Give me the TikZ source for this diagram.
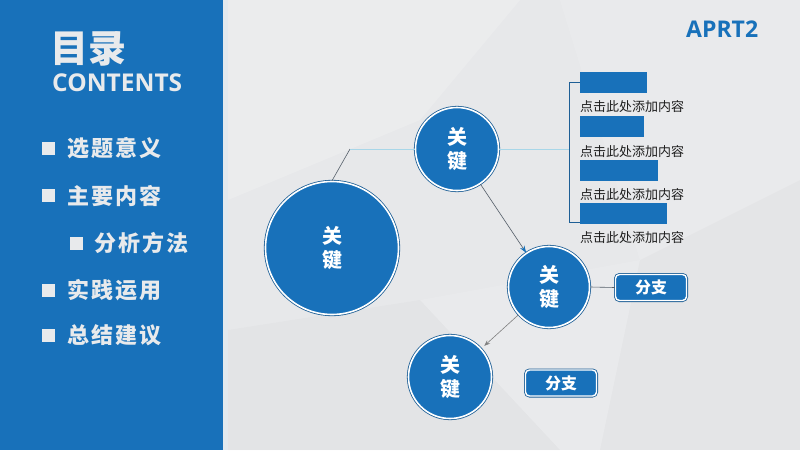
\documentclass[tikz,border=0pt]{standalone}
\usepackage{fontspec}
\setmainfont{Open Sans}
\newfontfamily\cjk{Noto Sans CJK SC}
\newfontfamily\osans{Open Sans}
\usetikzlibrary{arrows.meta}
\definecolor{mainblue}{RGB}{24,113,186}
\definecolor{ringblue}{RGB}{30,95,150}
\definecolor{bgc}{RGB}{231,232,234}
\definecolor{itemgrey}{RGB}{232,234,236}
\definecolor{cyanline}{RGB}{168,214,232}
\definecolor{darkline}{RGB}{85,95,105}
\definecolor{txtdark}{RGB}{30,30,30}
\definecolor{stripc}{RGB}{226,233,238}
\begin{document}
\begin{tikzpicture}[x=1pt,y=-1pt,
  keynode/.style={circle, fill=mainblue, draw=white, line width=1.6pt, minimum size=#1, inner sep=0pt,
    text=white, align=center, font=\cjk\bfseries\fontsize{20}{24}\selectfont,
    preaction={draw=ringblue, line width=3.2pt}},
  branchbox/.style={rectangle, rounded corners=4pt, fill=mainblue, draw=white, line width=1.4pt,
    minimum width=71pt, minimum height=26pt, inner sep=0pt, text=white,
    font=\cjk\bfseries\fontsize{16}{18}\selectfont,
    preaction={draw=ringblue, line width=3pt}},
  bar/.style={fill=mainblue, draw=none, inner sep=0pt, anchor=north west},
  itemtext/.style={anchor=base west, inner sep=0pt, text=itemgrey,
    font=\cjk\bfseries\fontsize{22}{24}\selectfont\addfontfeature{LetterSpace=10}},
  sq/.style={fill=itemgrey, minimum size=13pt, inner sep=0pt},
  smalltext/.style={anchor=base west, inner sep=0pt, text=txtdark, font=\cjk\fontsize{13}{15}\selectfont},
  dline/.style={draw=darkline, line width=0.6pt},
  cline/.style={draw=cyanline, line width=0.9pt},
  brline/.style={draw=ringblue, line width=0.8pt}
]
\useasboundingbox (0,0) rectangle (800,450);
% background
\fill[bgc] (0,0) rectangle (800,450);
\fill[white, opacity=0.18] (228,0) -- (520,0) -- (420,120) -- (228,200) -- cycle;
\fill[white, opacity=0.12] (560,0) -- (800,0) -- (800,180) -- (640,260) -- cycle;
\fill[black, opacity=0.015] (228,330) -- (420,300) -- (560,450) -- (228,450) -- cycle;
\fill[black, opacity=0.012] (640,260) -- (800,180) -- (800,450) -- (600,450) -- cycle;
\fill[white, opacity=0.1] (420,300) -- (640,260) -- (600,450) -- (560,450) -- cycle;
% left panel
\fill[mainblue] (0,0) rectangle (223,450);
\fill[stripc] (223,0) rectangle (228,450);

% titles
\node[anchor=base west, inner sep=0pt, text=itemgrey, font=\cjk\bfseries\fontsize{38}{40}\selectfont] (title) at (50,62) {目录};
\node[anchor=base west, inner sep=0pt, text=itemgrey, font=\osans\bfseries\fontsize{24.5}{27}\selectfont] (contents) at (52,91) {CONTENTS};
\node[anchor=base west, inner sep=0pt, text=mainblue, font=\osans\bfseries\fontsize{23}{25}\selectfont] (aprt) at (686,37) {APRT2};

% menu
\node[sq] (s1) at (48,148.5) {};
\node[itemtext] (i1) at (67,156.4) {选题意义};
\node[sq] (s2) at (48,195.5) {};
\node[itemtext] (i2) at (67,204.4) {主要内容};
\node[sq] (s3) at (76,243) {};
\node[itemtext] (i3) at (94,251.4) {分析方法};
\node[sq] (s4) at (48,290) {};
\node[itemtext] (i4) at (67,298.4) {实践运用};
\node[sq] (s5) at (48,335) {};
\node[itemtext] (i5) at (67,343.4) {总结建议};

% circles
\node[keynode=133pt] (big) at (332,248) {关\\键};
\node[keynode=83pt] (top) at (457,149) {关\\键};
\node[keynode=81pt] (mid) at (549,287) {关\\键};
\node[keynode=83pt] (bot) at (450,377) {关\\键};

% branch boxes
\node[branchbox] (br1) at (651,287.5) {分支};
\node[branchbox] (br2) at (561,383) {分支};

% bars and texts
\node[bar, minimum width=67pt, minimum height=21pt] (bar1) at (580,72) {};
\node[smalltext] (t1) at (580,111.5) {点击此处添加内容};
\node[bar, minimum width=64pt, minimum height=21pt] (bar2) at (580,116) {};
\node[smalltext] (t2) at (580,156) {点击此处添加内容};
\node[bar, minimum width=78pt, minimum height=21pt] (bar3) at (580,160) {};
\node[smalltext] (t3) at (580,199) {点击此处添加内容};
\node[bar, minimum width=87pt, minimum height=21pt] (bar4) at (580,203) {};
\node[smalltext] (t4) at (580,242.5) {点击此处添加内容};

% bracket
\coordinate (bt) at (569,82);
\coordinate (bb) at (569,222);
\coordinate (bm) at (569,149);
\draw[brline] (bar1.west |- bt) -- (bt) -- (bb) -- (bar4.west |- bb);

% connectors
\coordinate (bend) at (350,149);
\draw[dline] (big.north) -- (bend);
\draw[cline] (bend) -- (top.west);
\draw[cline] (top.east) -- (bm);
\draw[dline, -{Stealth[length=7pt, width=5pt, color=mainblue]}] (top) -- (mid);
\draw[dline, draw=gray, shorten >=4pt, -{Stealth[length=6pt, width=4.5pt, color=gray]}] (mid) -- (bot);
\draw[dline] (mid.east) -- (br1.west);
\end{tikzpicture}
\end{document}
